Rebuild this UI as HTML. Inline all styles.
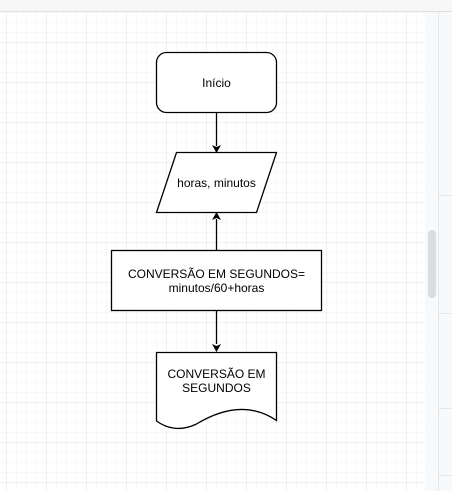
<!DOCTYPE html>
<html><head><style>
body{margin:0;width:452px;height:491px;overflow:hidden;background:#fff;font-family:"Liberation Sans",Arial,sans-serif;}
</style></head><body>
<svg width="452" height="491" xmlns="http://www.w3.org/2000/svg" style="position:absolute;left:0;top:0">
<defs>
<pattern id="minor" width="10" height="10" patternUnits="userSpaceOnUse" x="6.5" y="2.5">
<path d="M10 0H0V10" fill="none" stroke="#f1f1f1" stroke-width="1"/></pattern>
<pattern id="major" width="40" height="40" patternUnits="userSpaceOnUse" x="6.5" y="2.5">
<path d="M40 0H0V40" fill="none" stroke="#e2e2e2" stroke-width="1"/></pattern>
</defs>
<rect x="0" y="11" width="425" height="480" fill="url(#minor)"/>
<rect x="0" y="11" width="425" height="480" fill="url(#major)"/>
<rect x="0" y="0" width="452" height="11" fill="#f7f7f7"/>
<line x1="0" y1="11.5" x2="452" y2="11.5" stroke="#e0e0e0"/>
<rect x="425" y="12" width="27" height="479" fill="#f8f9fa"/>
<line x1="438.5" y1="12" x2="438.5" y2="491" stroke="#e6e6e6"/>
<line x1="439" y1="195.5" x2="452" y2="195.5" stroke="#e6e6e6"/>
<line x1="439" y1="313.5" x2="452" y2="313.5" stroke="#e6e6e6"/>
<line x1="439" y1="408.5" x2="452" y2="408.5" stroke="#e6e6e6"/>
<line x1="439" y1="475.5" x2="452" y2="475.5" stroke="#e6e6e6"/>
<rect x="428" y="230" width="8" height="68" rx="4" fill="#dadce0"/>
<g stroke="#000" stroke-width="1.3" fill="#fff">
<rect x="156.5" y="52.5" width="120" height="60" rx="10"/>
<polygon points="176.5,152.5 276.5,152.5 256.5,212.5 156.5,212.5"/>
<rect x="111.5" y="250.5" width="210" height="60"/>
<path d="M156.5 352.5H276.5V420.5C246.5 400 216.5 412 196.5 424C180 432 166 428 156.5 421Z"/>
<line x1="216.5" y1="112.5" x2="216.5" y2="146"/>
<line x1="216.5" y1="250.5" x2="216.5" y2="219"/>
<line x1="216.5" y1="310.5" x2="216.5" y2="344"/>
</g>
<g fill="#000">
<polygon points="212,145 216.5,153 221,145 216.5,147"/>
<polygon points="212,220 216.5,212 221,220 216.5,218"/>
<polygon points="212,344 216.5,352 221,344 216.5,346"/>
</g>
<g font-size="12" text-anchor="middle" fill="#000" font-family="Liberation Sans, Arial, sans-serif">
<text x="216.5" y="87">Início</text>
<text x="216.5" y="187">horas, minutos</text>
<text x="216.5" y="278">CONVERSÃO EM SEGUNDOS=</text>
<text x="216.5" y="292">minutos/60+horas</text>
<text x="216.5" y="378">CONVERSÃO EM</text>
<text x="216.5" y="392">SEGUNDOS</text>
</g>
</svg>
</body></html>
